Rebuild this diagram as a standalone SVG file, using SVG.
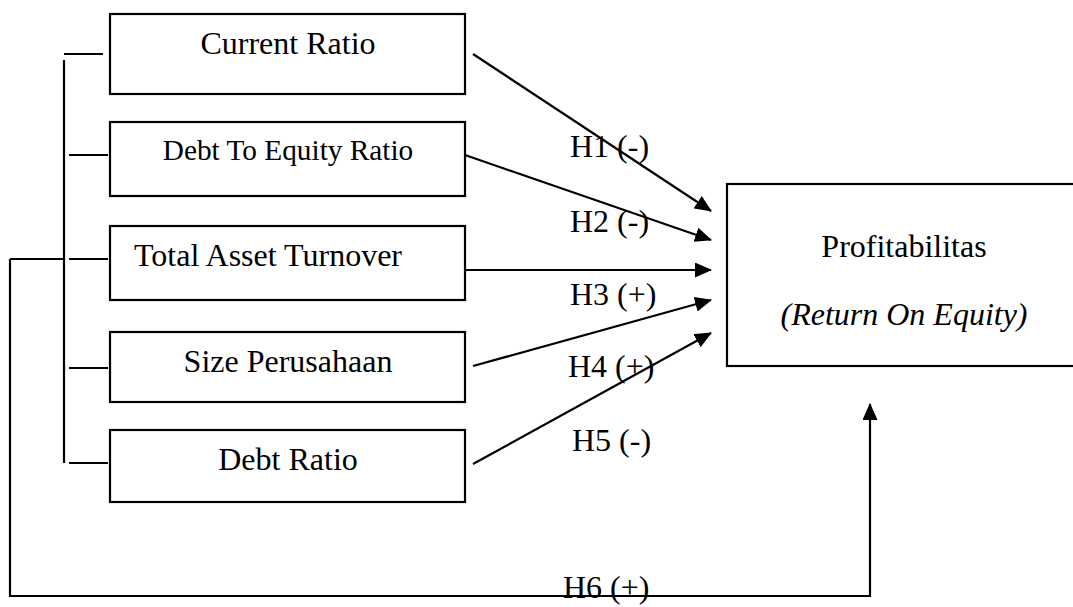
<svg xmlns="http://www.w3.org/2000/svg" width="1073" height="607" viewBox="0 0 1073 607">
<style>
.box{fill:#fff;stroke:#000;stroke-width:2.2}
.ln{fill:none;stroke:#000;stroke-width:2.2}
.t{font-family:"Liberation Serif","Times New Roman",serif;font-size:32px;fill:#000}
.c{text-anchor:middle}
</style>
<defs>
<marker id="ah" markerWidth="17" markerHeight="15" refX="16" refY="7.5" orient="auto" markerUnits="userSpaceOnUse">
<path d="M0,0 L17,7.5 L0,15 Z" fill="#000"/>
</marker>
</defs>
<rect width="1073" height="607" fill="#fff"/>
<g id="connectors">
<path class="ln" d="M64,60 V463"/>
<path class="ln" d="M64,54 H103"/>
<path class="ln" d="M69,155 H108"/>
<path class="ln" d="M69,259 H108"/>
<path class="ln" d="M69,368 H108"/>
<path class="ln" d="M69,463 H108"/>
<path class="ln" d="M10,259 H64"/>
<path class="ln" d="M10,259 V596 H870 V404" marker-end="url(#ah)"/>
<path class="ln" d="M473,54 L711,211" marker-end="url(#ah)"/>
<path class="ln" d="M465,155 L711,240" marker-end="url(#ah)"/>
<path class="ln" d="M465,270 L711,270" marker-end="url(#ah)"/>
<path class="ln" d="M473,366 L711,300" marker-end="url(#ah)"/>
<path class="ln" d="M473,464 L711,333" marker-end="url(#ah)"/>
<text class="t" x="570" y="157">H1 (-)</text>
<text class="t" x="570" y="232">H2 (-)</text>
<text class="t" x="570" y="305">H3 (+)</text>
<text class="t" x="568" y="377">H4 (+)</text>
<text class="t" x="572" y="451">H5 (-)</text>
<text class="t" x="563" y="598">H6 (+)</text>
</g>
<g id="current-ratio">
<rect class="box" x="110" y="14" width="355" height="80"/>
<text class="t c" x="288" y="54">Current Ratio</text>
</g>
<g id="debt-to-equity">
<rect class="box" x="110" y="122" width="355" height="74"/>
<text class="t c" x="288" y="160" style="font-size:29.3px">Debt To Equity Ratio</text>
</g>
<g id="total-asset-turnover">
<rect class="box" x="110" y="226" width="355" height="74"/>
<text class="t c" x="268" y="266">Total Asset Turnover</text>
</g>
<g id="size-perusahaan">
<rect class="box" x="110" y="332" width="355" height="70"/>
<text class="t c" x="288" y="372">Size Perusahaan</text>
</g>
<g id="debt-ratio">
<rect class="box" x="110" y="430" width="355" height="72"/>
<text class="t c" x="288" y="470">Debt Ratio</text>
</g>
<g id="profitabilitas">
<rect class="box" x="727" y="184" width="360" height="182"/>
<text class="t c" x="904" y="257">Profitabilitas</text>
<text class="t c" x="904" y="325" font-style="italic">(Return On Equity)</text>
</g>
</svg>
